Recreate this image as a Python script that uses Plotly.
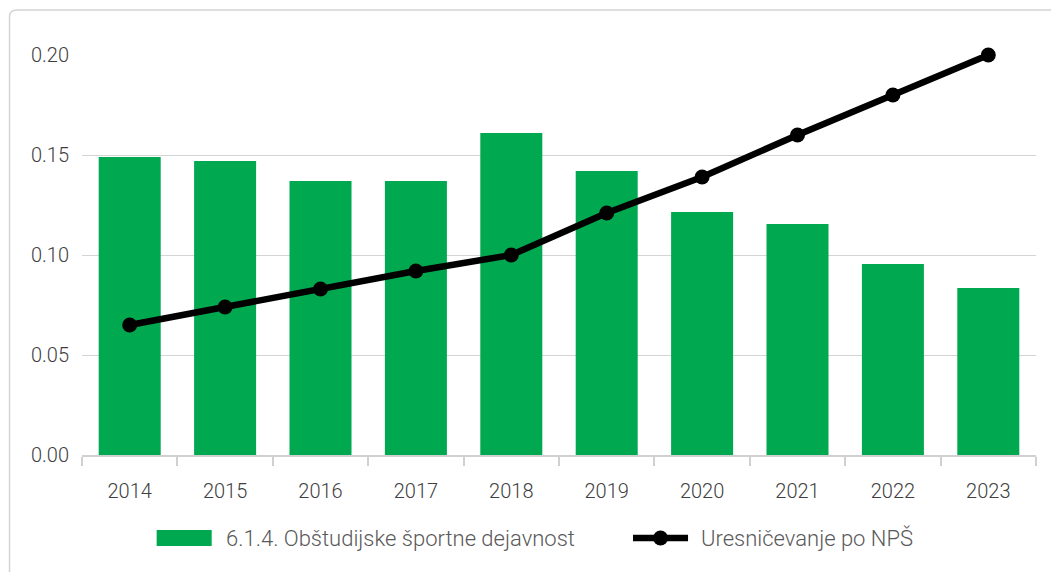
import plotly.graph_objects as go

years = ["2014", "2015", "2016", "2017", "2018", "2019", "2020", "2021", "2022", "2023"]
bar_values = [0.149, 0.147, 0.137, 0.137, 0.161, 0.142, 0.1215, 0.1155, 0.0955, 0.0835]
line_values = [0.065, 0.074, 0.083, 0.092, 0.100, 0.121, 0.139, 0.160, 0.180, 0.200]
bar_name = "6.1.4. Obštudijske športne dejavnost"
line_name = "Uresničevanje po NPŠ"

FONT = "Roboto"
GREEN = "#00A94F"
OFF = 8  # page body offset
fig = go.Figure()
fig.add_trace(go.Bar(x=years, y=bar_values, name=bar_name, showlegend=False,
                     marker=dict(color=GREEN, line=dict(width=0))))
fig.add_trace(go.Scatter(x=years, y=line_values, name=line_name, mode="lines+markers",
                         showlegend=False, cliponaxis=False,
                         line=dict(color="#000000", width=6.5),
                         marker=dict(color="#000000", size=15)))

# target plot area in screen pixels
SL, SR, ST, SB = 82.4, 1035.7, 55, 455
L, T = SL - OFF, ST - OFF
R = 1059 - (SR - OFF)
B = 572 - (SB - OFF)
pw, ph = SR - SL, SB - ST
def px_x(p):
    return (p - SL) / pw
def px_y(p):
    return (SB - p) / ph

# outer frame
x0, y0 = px_x(10), px_y(10)
x1, y1 = px_x(1100), px_y(620)
rx, ry = 7 / pw, 7 / ph
path = (f"M {x0},{y1} L {x0},{y0 - ry} Q {x0},{y0} {x0 + rx},{y0} "
        f"L {x1},{y0}")
fig.add_shape(type="path", path=path, xref="paper", yref="paper",
              line=dict(color="#d4d4d4", width=1.5), layer="below")

# legend (drawn)
LY = 538
fig.add_shape(type="rect", xref="paper", yref="paper",
              x0=px_x(157), x1=px_x(212), y0=px_y(546), y1=px_y(530),
              fillcolor=GREEN, line=dict(width=0))
fig.add_annotation(x=px_x(224), y=px_y(LY), xref="paper", yref="paper", text=bar_name,
                   showarrow=False, xanchor="left", yanchor="middle",
                   font=dict(size=22, color="#595959", weight=300))
fig.add_shape(type="line", xref="paper", yref="paper",
              x0=px_x(633), x1=px_x(688), y0=px_y(LY), y1=px_y(LY),
              line=dict(color="#000000", width=6.5))
fig.add_shape(type="circle", xref="paper", yref="paper",
              x0=px_x(653), x1=px_x(668), y0=px_y(LY + 7.5), y1=px_y(LY - 7.5),
              fillcolor="#000000", line=dict(width=0))
fig.add_annotation(x=px_x(699), y=px_y(LY), xref="paper", yref="paper", text=line_name,
                   showarrow=False, xanchor="left", yanchor="middle",
                   font=dict(size=22, color="#595959", weight=300))

fig.update_layout(
    width=1059, height=572,
    margin=dict(l=L, r=R, t=T, b=B, autoexpand=False),
    paper_bgcolor="white", plot_bgcolor="white",
    font=dict(family=FONT, size=20, color="#404040", weight=300),
    bargap=0.35,
    showlegend=False,
    xaxis=dict(range=[-0.5, 9.5], showgrid=False, showline=True, linecolor="#d0d0d0",
               linewidth=1.5, ticks="outside", tickson="boundaries", ticklen=9,
               tickcolor="#d0d0d0", tickwidth=1.5, ticklabelstandoff=17,
               fixedrange=True, automargin=False),
    yaxis=dict(range=[0, 0.2], dtick=0.05, tickformat=".2f", showgrid=True,
               gridcolor="#d4d4d4", gridwidth=1.2, zeroline=False, showline=False,
               ticklabelstandoff=12, fixedrange=True, automargin=False),
)
fig.write_html("out.html")
